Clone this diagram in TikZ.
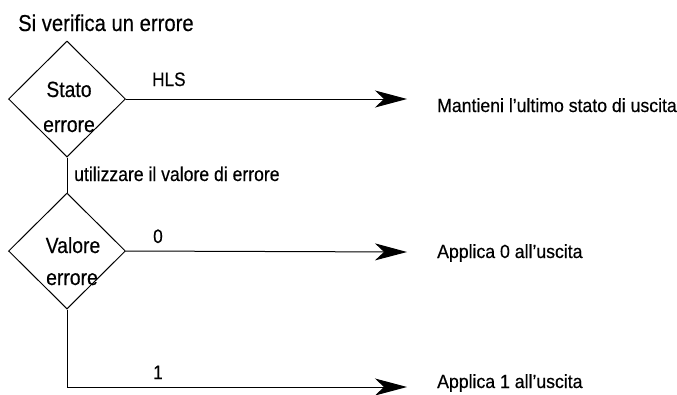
\documentclass[tikz,border=0pt]{standalone}
\usepackage{fontspec}
\setmainfont[FakeStretch=0.88,FakeBold=0.4]{Liberation Sans}
\newfontfamily\resultfont[FakeStretch=0.93,FakeBold=0.4]{Liberation Sans}
\usetikzlibrary{shapes.geometric,arrows.meta}
\begin{document}
\begin{tikzpicture}[x=1pt,y=-1pt,
  decision/.style={draw,diamond,line width=1pt,minimum width=117pt,minimum height=116pt,inner sep=0pt},
  flow/.style={line width=1pt},
  outarrow/.style={flow,-{Stealth[length=32pt,width=17pt,inset=9pt]}},
  txt/.style={inner sep=0pt,anchor=base west},
  inbox/.style={inner sep=0pt,anchor=base,font=\fontsize{22}{26}\selectfont},
  titletxt/.style={txt,font=\fontsize{23}{27}\selectfont},
  steptxt/.style={txt,font=\fontsize{20}{24}\selectfont},
  branchtxt/.style={txt,font=\fontsize{19.5}{23}\selectfont},
  resulttxt/.style={txt,font=\resultfont\fontsize{19}{23}\selectfont}]
\useasboundingbox (0,0) rectangle (677,394);

% title
\node[titletxt] (title) at (18,31) {Si verifica un errore};

% decision diamonds
\node[decision] (d1) at (67,99) {};
\node[inbox] (d1a) at (69,97) {Stato};
\node[inbox] (d1b) at (69,132) {errore};

\node[decision] (d2) at (67,251) {};
\node[inbox] (d2a) at (73,253) {Valore};
\node[inbox] (d2b) at (72,285) {errore};

% arrow end points
\coordinate (e1) at (407,99);
\coordinate (e2) at (407,252);
\coordinate (e3) at (407,387);

% connectors
\draw[outarrow] (d1.east) -- (e1);
\draw[flow] (d1.south) -- (d2.north);
\draw[outarrow] (d2.east) -- (e2);
\draw[outarrow] (d2.south) |- (e3);

% branch labels
\node[branchtxt] (lhls) at (152,86) {HLS};
\node[steptxt] (luse) at (74,181) {utilizzare il valore di errore};
\node[branchtxt] (l0) at (153,243) {0};
\node[branchtxt] (l1) at (153,379) {1};

% results
\node[resulttxt] (r1) at (437,112) {Mantieni l’ultimo stato di uscita};
\node[resulttxt] (r2) at (437,258) {Applica 0 all’uscita};
\node[resulttxt] (r3) at (437,388) {Applica 1 all’uscita};
\end{tikzpicture}
\end{document}
